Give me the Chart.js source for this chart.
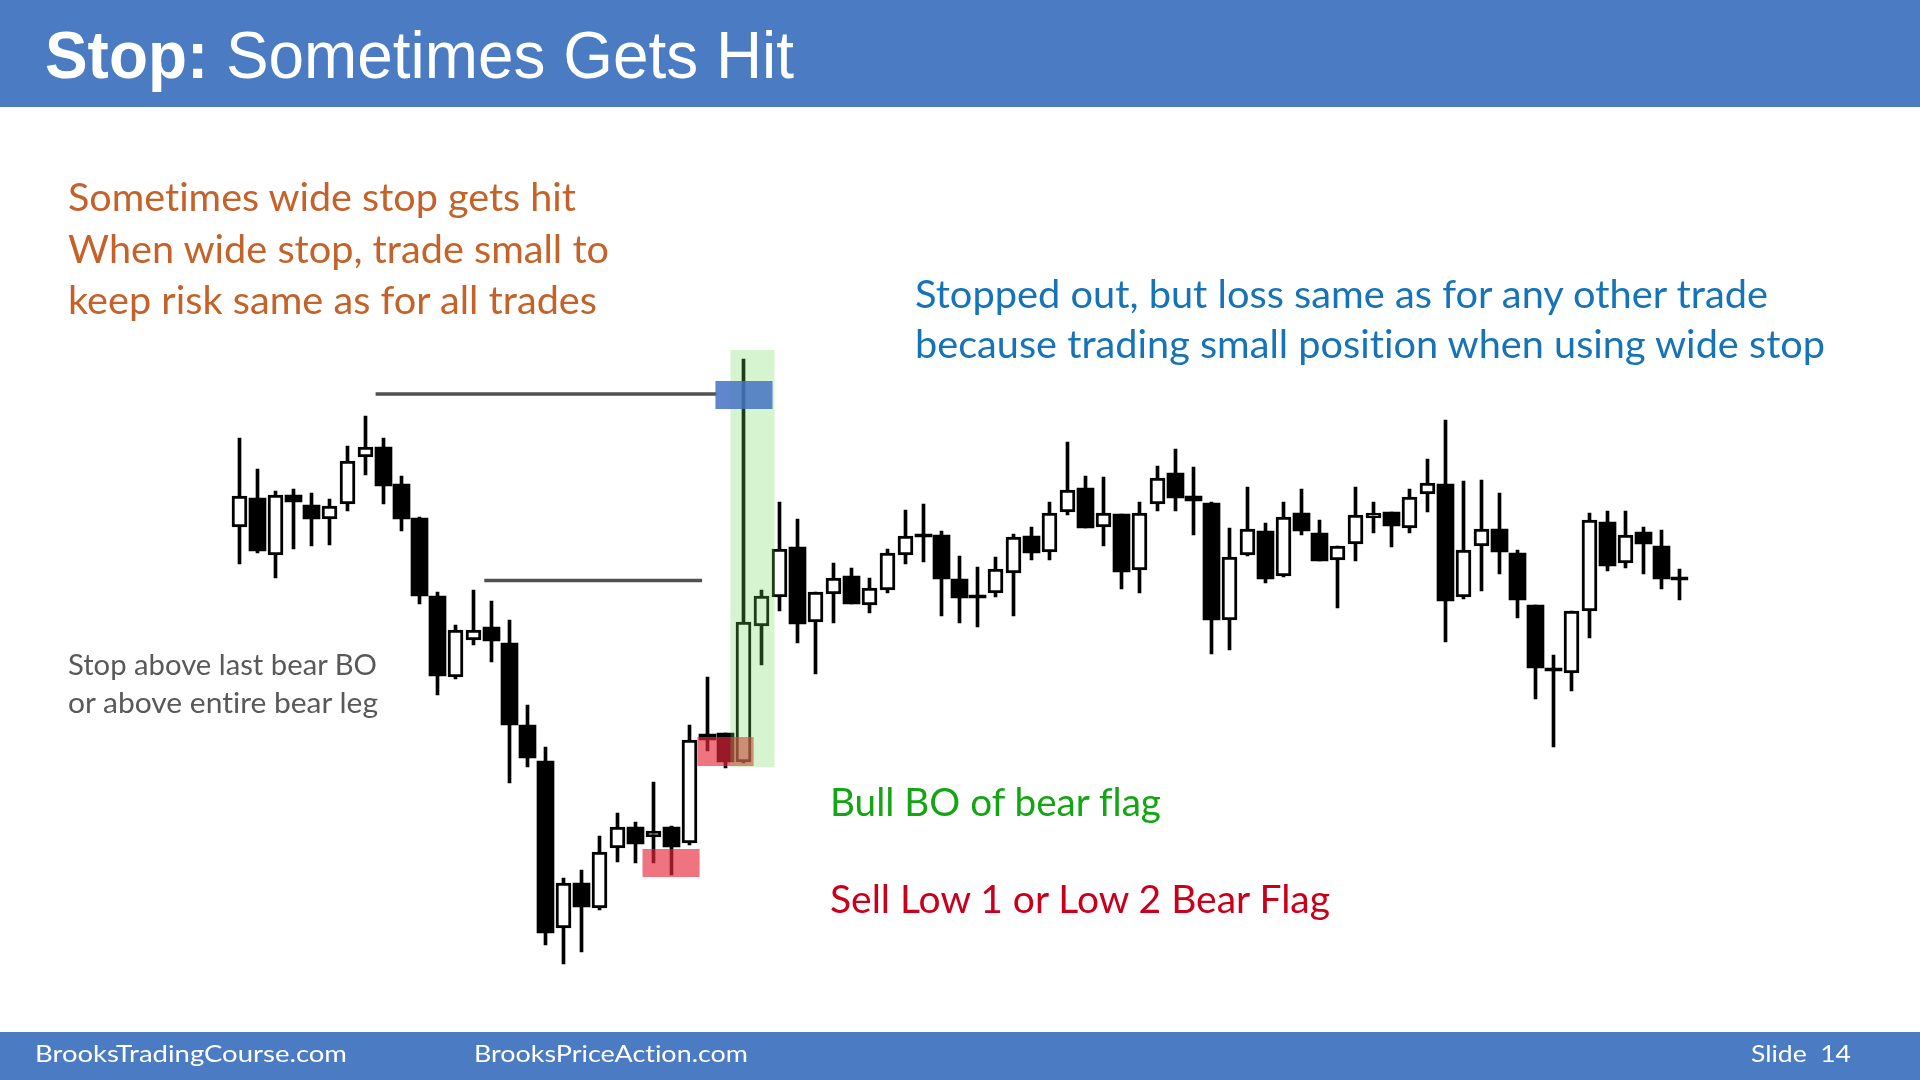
<!DOCTYPE html>
<html>
<head>
<meta charset="utf-8">
<script src="https://cdn.jsdelivr.net/npm/chart.js@4.4.1/dist/chart.umd.min.js"></script>
<style>
  html, body { margin:0; padding:0; background:#fff; }
  #page { position:relative; width:1920px; height:1080px; overflow:hidden; background:#fff; }
  #chartBox { position:absolute; left:0; top:0; width:1920px; height:1080px; }
  .bar { position:absolute; left:0; width:1920px; background:#4a7bc3; }
  .txt { position:absolute; white-space:pre; line-height:1; font-family:Lato, "Open Sans", sans-serif;
         font-variant-ligatures:none; font-feature-settings:"liga" 0, "clig" 0, "dlig" 0; }
</style>
</head>
<body>
<div id="page">
  <div class="bar" style="top:0;height:107px;"></div>
  <div class="bar" style="top:1032px;height:48px;"></div>
  <div id="chartBox"><canvas id="c" width="1920" height="1080"></canvas></div>
</div>
<script>
// ---- Candle data (price units) ----
const bars  = Array.from({length: 81}, (_, i) => String(i + 1));
const opens  = [473,502,445,505,495,481,496,543,553,516,482,404,323,360,373,357,275,239,72,117,92,152,173,163,173,157,266,267,238,374,403,453,378,406,424,395,410,445,466,465,421,405,407,427,464,448,488,512,473,486,430,496,527,504,497,380,445,469,424,487,467,440,456,482,488,472,506,516,403,454,471,447,395,332,327,389,478,437,468,454,423];
const highs  = [562,531,509,511,507,501,554,584,562,524,483,408,375,410,399,380,295,253,122,130,164,187,178,218,174,275,323,267,641,410,498,481,408,437,432,422,451,490,496,469,444,433,443,466,473,498,558,524,523,486,498,534,551,533,498,472,513,477,498,511,480,454,513,498,488,511,541,580,519,520,507,450,395,345,389,487,489,489,473,470,431];
const lows   = [436,447,422,451,454,455,489,525,496,469,396,305,321,355,338,217,233,55,36,48,90,138,137,137,125,155,249,232,237,335,389,357,326,377,396,387,407,436,438,384,377,373,403,384,440,440,485,472,454,411,407,489,489,465,346,350,444,417,423,465,439,392,439,467,453,467,488,358,401,409,426,382,301,253,309,362,429,432,426,411,400];
const closes = [504,449,505,498,481,494,539,553,514,481,404,324,370,370,359,275,242,67,117,93,148,173,156,169,153,260,260,238,378,404,451,376,408,422,396,412,447,464,466,421,402,405,431,463,447,487,510,472,487,428,487,522,502,499,380,443,471,421,483,469,439,454,485,487,474,503,517,399,450,471,448,400,332,332,389,480,434,465,456,421,423];

// ---- Annotations (candle index / price units) ----
const stopLines = [ { from: 7.56, to: 26.5, price: 606 }, { from: 13.6, to: 25.7, price: 419.5 } ];
const redZones  = [ { x0: 22.39, x1: 25.56, p0: 123, p1: 151 }, { x0: 25.44, x1: 28.56, p0: 234, p1: 263 } ];
const greenZone = { x0: 27.28, x1: 29.72, p0: 233, p1: 650 };
const blueZone  = { x0: 26.44, x1: 29.61, p0: 591, p1: 619 };

const isBull = opens.map((o, i) => closes[i] > o);
const bullBodies = opens.map((o, i) => isBull[i] ? [o, closes[i]] : null);
const bearBodies = opens.map((o, i) => isBull[i] ? null : [o, closes[i]]);
const wicks = lows.map((l, i) => [l, highs[i]]);

const overlay = {
  id: 'overlay',
  afterDatasetsDraw(chart) {
    const ctx = chart.ctx, xs = chart.scales.x, ys = chart.scales.y;
    const rect = (z, color) => {
      const x0 = xs.getPixelForValue(z.x0), x1 = xs.getPixelForValue(z.x1);
      const y0 = ys.getPixelForValue(z.p1), y1 = ys.getPixelForValue(z.p0);
      ctx.fillStyle = color; ctx.fillRect(x0, y0, x1 - x0, y1 - y0);
    };
    ctx.save();
    ctx.strokeStyle = '#505050'; ctx.lineWidth = 3.5;
    stopLines.forEach(l => {
      const y = ys.getPixelForValue(l.price);
      ctx.beginPath(); ctx.moveTo(xs.getPixelForValue(l.from), y); ctx.lineTo(xs.getPixelForValue(l.to), y); ctx.stroke();
    });
    redZones.forEach(z => rect(z, 'rgba(232,40,60,0.65)'));
    rect(greenZone, 'rgba(110,215,90,0.28)');
    rect(blueZone, 'rgba(68,114,196,0.85)');
    ctx.restore();
  }
};

new Chart(document.getElementById('c'), {
  type: 'bar',
  data: {
    labels: bars,
    datasets: [
      { data: bullBodies, backgroundColor: '#ffffff', borderColor: '#000', borderWidth: 3, borderSkipped: false, barThickness: 15, minBarLength: 3, grouped: false, order: 0 },
      { data: bearBodies, backgroundColor: '#000000', borderColor: '#000', borderWidth: 0, borderSkipped: false, barThickness: 17, minBarLength: 3, grouped: false, order: 1 },
      { data: wicks, backgroundColor: '#000000', borderWidth: 0, barThickness: 3, grouped: false, order: 2 }
    ]
  },
  options: {
    responsive: false, animation: false, devicePixelRatio: 1,
    layout: { padding: { left: 230.5, right: 231.5, top: 0, bottom: 0 } },
    plugins: { legend: { display: false }, tooltip: { enabled: false } },
    scales: {
      x: { display: false, offset: true },
      y: { display: false, min: -80, max: 1000 }
    }
  },
  plugins: [overlay]
});

// ---- Text ----
const texts = [
  { html: '<b>Stop:</b> Sometimes Gets Hit', x: 45, base: 78, w: 749, font: '67px "Liberation Sans", Arial, sans-serif', color: '#ffffff' },
  { html: 'Sometimes wide stop gets hit', x: 68, base: 211, w: 508, font: '38px Lato', color: '#c4622a' },
  { html: 'When wide stop, trade small to', x: 68, base: 263, w: 541, font: '38px Lato', color: '#c4622a' },
  { html: 'keep risk same as for all trades', x: 68, base: 314, w: 529, font: '38px Lato', color: '#c4622a' },
  { html: 'Stopped out, but loss same as for any other trade', x: 915, base: 308, w: 853, font: '38px Lato', color: '#1673b8' },
  { html: 'because trading small position when using wide stop', x: 915, base: 358, w: 910, font: '38px Lato', color: '#1673b8' },
  { html: 'Stop above last bear BO', x: 68, base: 675, w: 309, font: '28px Lato', color: '#595959' },
  { html: 'or above entire bear leg', x: 68, base: 713, w: 310, font: '28px Lato', color: '#595959' },
  { html: 'Bull BO of bear flag', x: 830, base: 816, w: 331, font: '38px Lato', color: '#14a514' },
  { html: 'Sell Low 1 or Low 2 Bear Flag', x: 830, base: 913, w: 500, font: '38px Lato', color: '#c8001c' },
  { html: 'BrooksTradingCourse.com', x: 35, base: 1062, w: 312, font: '24px Lato', color: '#ffffff' },
  { html: 'BrooksPriceAction.com', x: 474, base: 1062, w: 274, font: '24px Lato', color: '#ffffff' },
  { html: 'Slide  14', x: 1751, base: 1062, w: 100, font: '24px Lato', color: '#ffffff' }
];
const page = document.getElementById('page');
const els = texts.map(t => {
  const d = document.createElement('div');
  d.className = 'txt';
  d.style.font = t.font; d.style.lineHeight = '1'; d.style.color = t.color;
  d.style.fontVariantLigatures = 'none';
  d.innerHTML = t.html;
  const m = document.createElement('span');
  m.style.cssText = 'display:inline-block;width:0;height:0;vertical-align:baseline;';
  d.appendChild(m);
  page.appendChild(d);
  return { d, m, t };
});
function layoutText() {
  els.forEach(({ d, m, t }) => {
    d.style.transform = 'none'; d.style.left = t.x + 'px'; d.style.top = '0px';
    const r = d.getBoundingClientRect();
    const base = m.getBoundingClientRect().bottom - r.top;
    d.style.top = (t.base - base) + 'px';
    d.style.transformOrigin = '0 0';
    d.style.transform = 'scaleX(' + (t.w / r.width) + ')';
  });
}
layoutText();
if (document.fonts && document.fonts.ready) document.fonts.ready.then(layoutText);
</script>
</body>
</html>
